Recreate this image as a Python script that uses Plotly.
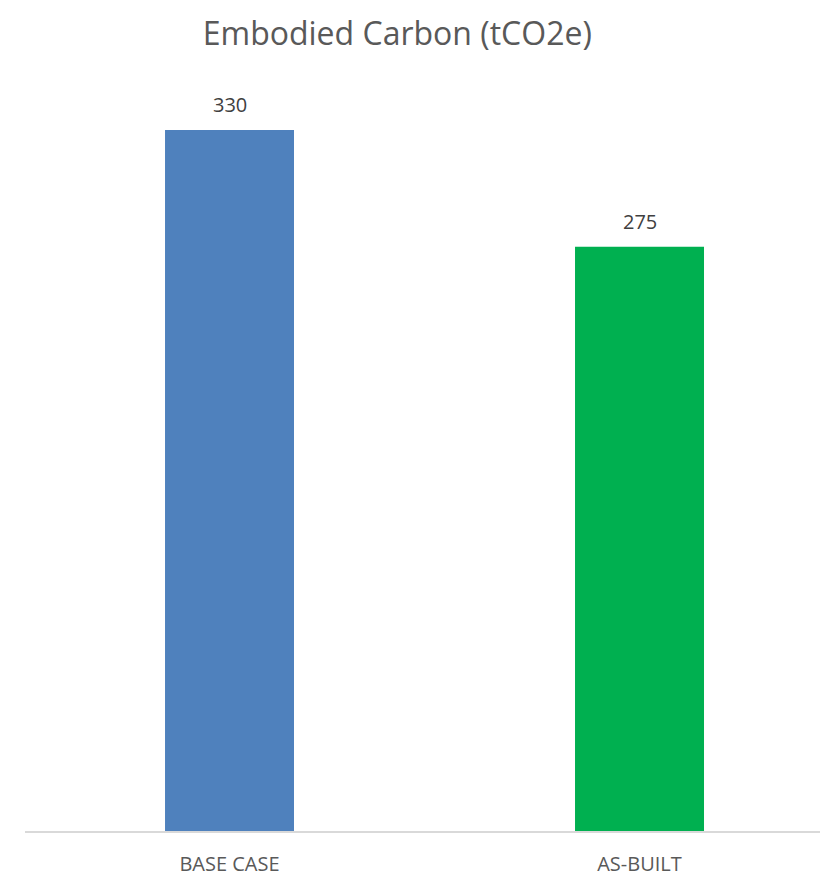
import plotly.graph_objects as go

categories = ["BASE CASE", "AS-BUILT"]
values = [330, 275]
colors = ["#4F81BD", "#00B050"]

fig = go.Figure(
    go.Bar(
        x=categories,
        y=values,
        marker=dict(color=colors, line=dict(width=0)),
        width=0.3146,
        hoverinfo="x+y",
    )
)

# value labels sitting above each bar
for cat, val in zip(categories, values):
    fig.add_annotation(
        x=cat,
        y=val,
        text=str(val),
        showarrow=False,
        yanchor="bottom",
        yshift=10,
        font=dict(family="Open Sans", size=20, color="#404040"),
    )

fig.update_layout(
    width=820,
    height=879,
    margin=dict(l=25, r=0, t=90, b=48),
    paper_bgcolor="white",
    plot_bgcolor="white",
    showlegend=False,
    title=dict(
        text="Embodied Carbon (tCO2e)",
        x=0.4845,
        xanchor="center",
        y=0.962,
        yanchor="middle",
        font=dict(family="Open Sans", size=32, color="#595959"),
    ),
    xaxis=dict(
        range=[-0.4988, 1.4402],
        showgrid=False,
        showline=True,
        linecolor="#D9D9D9",
        linewidth=2,
        ticks="",
        ticklabelstandoff=14,
        tickfont=dict(family="Open Sans", size=20, color="#595959"),
        fixedrange=True,
    ),
    yaxis=dict(
        range=[0, 348.8],
        showgrid=False,
        showticklabels=False,
        zeroline=False,
        showline=False,
        ticks="",
        fixedrange=True,
    ),
)

fig.write_html("out.html")
